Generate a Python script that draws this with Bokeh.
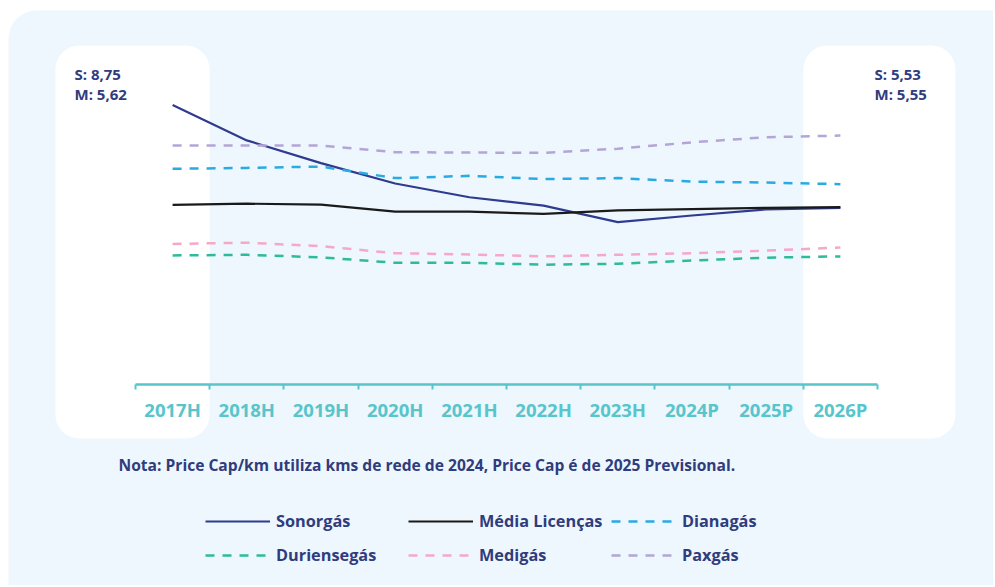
from bokeh.plotting import figure
from bokeh.models import (Range1d, FixedTicker, BoxAnnotation, Label, Legend, LegendItem)
from bokeh.embed import file_html
from bokeh.resources import INLINE

categories = ["2017H", "2018H", "2019H", "2020H", "2021H", "2022H", "2023H", "2024P", "2025P", "2026P"]
sonorgas    = [8.75, 7.64, 6.93, 6.29, 5.86, 5.60, 5.08, 5.29, 5.48, 5.53]
media       = [5.62, 5.66, 5.63, 5.41, 5.41, 5.34, 5.45, 5.49, 5.53, 5.55]
dianagas    = [6.75, 6.78, 6.82, 6.46, 6.53, 6.43, 6.46, 6.35, 6.32, 6.27]
duriensegas = [4.04, 4.06, 3.98, 3.81, 3.81, 3.75, 3.78, 3.88, 3.97, 4.01]
medigas     = [4.40, 4.44, 4.33, 4.11, 4.07, 4.01, 4.06, 4.11, 4.19, 4.29]
paxgas      = [7.48, 7.48, 7.48, 7.27, 7.26, 7.25, 7.38, 7.58, 7.74, 7.79]
note = "Nota: Price Cap/km utiliza kms de rede de 2024, Price Cap é de 2025 Previsional."

xs = list(range(len(categories)))

BG = "#eef7fd"
NAVY = "#2f3c7e"
TEAL = "#57c5cb"
FONT = "Open Sans"

W, H = 993, 585
PX_X, PX_Y = 74.2, 31.95          # pixels per data unit
X0_PX, Y0_PX = 135, 384           # screen position of x=-0.5 and y=0
x_start = -0.5 - X0_PX / PX_X
x_end = x_start + W / PX_X
y_end = Y0_PX / PX_Y
y_start = y_end - H / PX_Y

def dx(px):  # screen x -> data x
    return x_start + px / PX_X

def dy(py):  # screen y (from top) -> data y
    return y_end - py / PX_Y

p = figure(width=W, height=H, output_backend="svg", toolbar_location=None,
           x_range=Range1d(x_start, x_end), y_range=Range1d(y_start, y_end),
           y_axis_location=None, min_border=0)
p.title.visible = False
p.background_fill_color = "white"
p.border_fill_color = "white"
p.outline_line_color = None
p.xgrid.visible = False
p.ygrid.visible = False

# rounded light-blue panel
p.add_layout(BoxAnnotation(left=dx(8), top=dy(10), right=x_end + 2, bottom=y_start - 2,
                           fill_color=BG, fill_alpha=1, line_color=None,
                           border_radius=28, level="underlay"))
# highlight boxes for first and last period
for l, r in [(xs[0] - 1.58, xs[0] + 0.5), (xs[-1] - 0.5, xs[-1] + 1.55)]:
    p.add_layout(BoxAnnotation(left=l, right=r, top=dy(45), bottom=dy(438),
                               fill_color="white", fill_alpha=1, line_color=None,
                               border_radius=24, level="underlay"))

ax = p.xaxis[0]
ax.fixed_location = 0
ax.bounds = (xs[0] - 0.5, xs[-1] + 0.5)
ax.ticker = FixedTicker(ticks=xs, minor_ticks=[i - 0.5 for i in range(len(categories) + 1)])
ax.major_label_overrides = {i: c for i, c in zip(xs, categories)}
ax.major_tick_out = 0
ax.major_tick_in = 0
ax.minor_tick_out = 5
ax.minor_tick_in = 0
ax.minor_tick_line_color = TEAL
ax.minor_tick_line_width = 2
ax.axis_line_color = TEAL
ax.axis_line_width = 2.5
ax.major_label_standoff = 7
ax.major_label_text_color = TEAL
ax.major_label_text_font = FONT
ax.major_label_text_font_size = "18.5px"
ax.major_label_text_font_style = "bold"

dash = "9 8"
r1 = p.line(xs, sonorgas, line_color="#2e3b8f", line_width=2.2)
r2 = p.line(xs, media, line_color="#1a1a1a", line_width=2.2)
r3 = p.line(xs, dianagas, line_color="#29abe2", line_width=2.5, line_dash=dash)
r4 = p.line(xs, duriensegas, line_color="#2dbb9b", line_width=2.5, line_dash=dash)
r5 = p.line(xs, medigas, line_color="#f5a9c9", line_width=2.5, line_dash=dash)
r6 = p.line(xs, paxgas, line_color="#b4a5d8", line_width=2.5, line_dash=dash)

def fmt(v):
    return f"{v:.2f}".replace(".", ",")

for px, s, m in [(74, sonorgas[0], media[0]), (874, sonorgas[-1], media[-1])]:
    for py, t in [(73, "S: " + fmt(s)), (93, "M: " + fmt(m))]:
        p.add_layout(Label(x=dx(px), y=dy(py), text=t, text_baseline="middle", text_color=NAVY,
                           text_font=FONT, text_font_size="15px", text_font_style="bold"))

p.add_layout(Label(x=dx(118), y=dy(464), text=note, text_baseline="middle", text_color=NAVY,
                   text_font=FONT, text_font_size="15.6px", text_font_style="bold"))

legend = Legend(items=[LegendItem(label="Sonorgás", renderers=[r1]),
                       LegendItem(label="Média Licenças", renderers=[r2]),
                       LegendItem(label="Dianagás", renderers=[r3]),
                       LegendItem(label="Duriensegás", renderers=[r4]),
                       LegendItem(label="Medigás", renderers=[r5]),
                       LegendItem(label="Paxgás", renderers=[r6])],
                location=(205, H - 569), orientation="horizontal", ncols=3,
                glyph_width=65, glyph_height=28, label_width=126, label_height=28,
                label_standoff=6, spacing=6, padding=0, margin=0,
                background_fill_alpha=0, border_line_color=None,
                label_text_color=NAVY, label_text_font=FONT, label_text_font_size="16.3px",
                label_text_font_style="bold")
p.add_layout(legend)

open("out.html", "w").write(file_html(p, INLINE))
